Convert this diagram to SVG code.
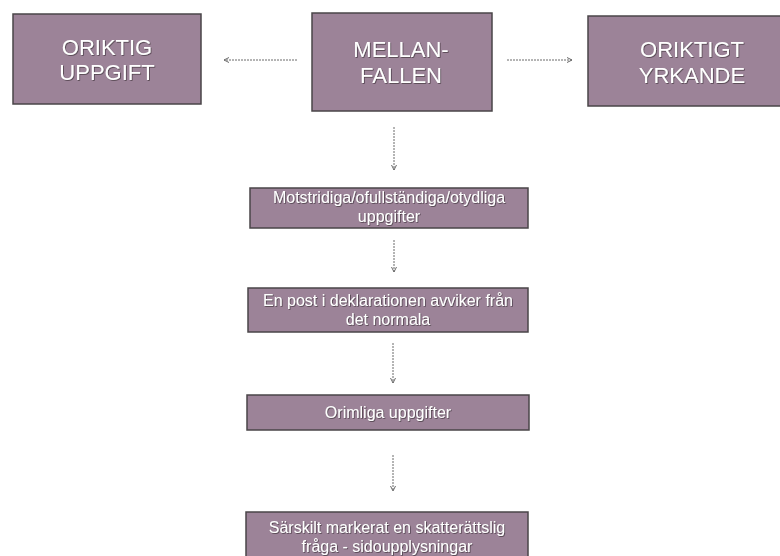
<svg xmlns="http://www.w3.org/2000/svg" width="780" height="556" viewBox="0 0 780 556">
<style>
.box{fill:#9c8398;stroke:#4a4548;stroke-width:1.5}
.big{font-family:"Liberation Sans",Arial,sans-serif;font-size:22px;fill:#ffffff;text-anchor:middle;filter:url(#sh)}
.small{font-family:"Liberation Sans",Arial,sans-serif;font-size:16px;fill:#ffffff;text-anchor:middle;filter:url(#sh)}
.conn{stroke:#6a6a6a;stroke-width:1;fill:none;stroke-dasharray:2 1}
</style>
<defs>
<filter id="sh" x="-10%" y="-30%" width="120%" height="160%">
<feDropShadow dx="0.8" dy="0.8" stdDeviation="0.6" flood-color="#3a3038" flood-opacity="0.8"/>
</filter>
<marker id="ah" markerWidth="6" markerHeight="6" refX="5" refY="3" orient="auto" markerUnits="userSpaceOnUse">
<path d="M0,0.5 L5,3 L0,5.5" fill="none" stroke="#6a6a6a" stroke-width="1"/>
</marker>
</defs>
<rect width="780" height="556" fill="#ffffff"/>
<g id="connectors">
<line class="conn" x1="297" y1="60" x2="224" y2="60" marker-end="url(#ah)"/>
<line class="conn" x1="507" y1="60" x2="572" y2="60" marker-end="url(#ah)"/>
<line class="conn" x1="394" y1="127" x2="394" y2="170" marker-end="url(#ah)"/>
<line class="conn" x1="394" y1="240" x2="394" y2="272" marker-end="url(#ah)"/>
<line class="conn" x1="393" y1="343" x2="393" y2="383" marker-end="url(#ah)"/>
<line class="conn" x1="393" y1="455" x2="393" y2="491" marker-end="url(#ah)"/>
</g>
<g id="n_oriktig_uppgift">
<rect class="box" x="13" y="14" width="188" height="90"/>
<text class="big" x="107" y="55">ORIKTIG</text>
<text class="big" x="107" y="80">UPPGIFT</text>
</g>
<g id="n_mellanfallen">
<rect class="box" x="312" y="13" width="180" height="98"/>
<text class="big" x="401" y="57">MELLAN-</text>
<text class="big" x="401" y="83">FALLEN</text>
</g>
<g id="n_oriktigt_yrkande">
<rect class="box" x="588" y="16" width="210" height="90"/>
<text class="big" x="692" y="57">ORIKTIGT</text>
<text class="big" x="692" y="83">YRKANDE</text>
</g>
<g id="n_motstridiga">
<rect class="box" x="250" y="188" width="278" height="40"/>
<text class="small" x="389" y="203">Motstridiga/ofullständiga/otydliga</text>
<text class="small" x="389" y="221.5">uppgifter</text>
</g>
<g id="n_en_post">
<rect class="box" x="248" y="288" width="280" height="44"/>
<text class="small" x="388" y="306">En post i deklarationen avviker från</text>
<text class="small" x="388" y="324.5">det normala</text>
</g>
<g id="n_orimliga">
<rect class="box" x="247" y="395" width="282" height="35"/>
<text class="small" x="388" y="418">Orimliga uppgifter</text>
</g>
<g id="n_sarskilt">
<rect class="box" x="246" y="512" width="282" height="50"/>
<text class="small" x="387" y="533">Särskilt markerat en skatterättslig</text>
<text class="small" x="387" y="551.5">fråga - sidoupplysningar</text>
</g>
</svg>
